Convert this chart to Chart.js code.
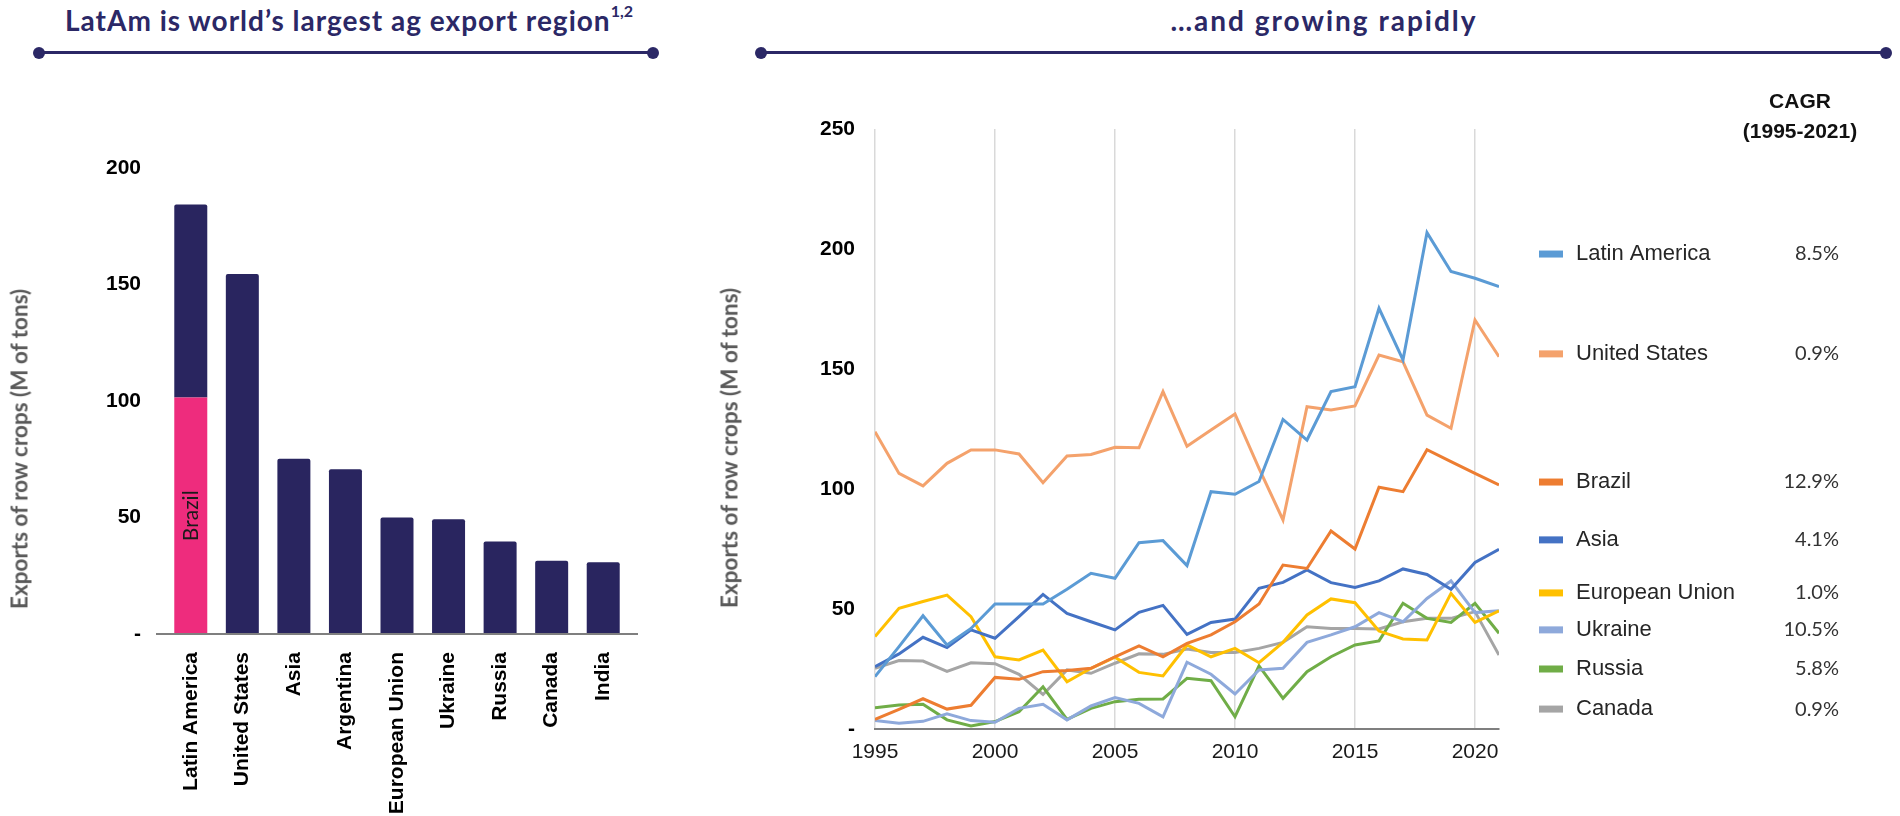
<!DOCTYPE html>
<html>
<head>
<meta charset="utf-8">
<script src="https://cdn.jsdelivr.net/npm/chart.js@4.4.1/dist/chart.umd.min.js"></script>
<style>
html,body{margin:0;padding:0;background:#fff;}
body{width:1900px;height:816px;position:relative;overflow:hidden;font-family:'Liberation Sans',Arial,sans-serif;}
canvas{position:absolute;}
.title{position:absolute;top:4px;line-height:1.2;font-family:Lato,sans-serif;font-weight:700;font-size:28px;color:#2B2866;white-space:nowrap;transform:translateX(-50%);}
.title sup{font-size:16px;line-height:0;position:relative;top:-4px;letter-spacing:0;}
.rule{position:absolute;height:3px;background:#2B2866;top:51px;}
.rule::before,.rule::after{content:'';position:absolute;width:12px;height:12px;border-radius:50%;background:#2B2866;top:-4.5px;}
.rule::before{left:-6px}
.rule::after{right:-6px}
.ytitle{position:absolute;font-family:Lato,sans-serif;font-weight:700;font-size:22.5px;color:#595959;white-space:nowrap;transform:translate(-50%,-50%) rotate(-90deg);}
.cagr{position:absolute;font-family:'Liberation Sans',Arial,sans-serif;font-weight:700;font-size:21px;color:#111;white-space:nowrap;transform:translate(-50%,-50%);}
</style>
</head>
<body>
<canvas id="barChart" width="660" height="716" style="left:0;top:100px;"></canvas>
<canvas id="lineChart" width="1200" height="690" style="left:700px;top:100px;"></canvas>

<div class="title" style="left:349px;letter-spacing:1px;">LatAm is world’s largest ag export region<sup>1,2</sup></div>
<div class="rule" style="left:39px;width:614px;"></div>
<div class="title" style="left:1324px;letter-spacing:2px;">…and growing rapidly</div>
<div class="rule" style="left:761px;width:1125px;"></div>

<div class="ytitle" style="left:19px;top:449px;">Exports of row crops (M of tons)</div>
<div class="ytitle" style="left:729px;top:448px;">Exports of row crops (M of tons)</div>

<div class="cagr" style="left:1800px;top:101px;">CAGR</div>
<div class="cagr" style="left:1800px;top:131px;">(1995-2021)</div>

<script>
// ---------- Left chart data ----------
const barCategories = ['Latin America','United States','Asia','Argentina','European Union','Ukraine','Russia','Canada','India'];
const barTotals = [184.3, 154.5, 75.2, 70.7, 50.0, 49.2, 39.7, 31.4, 30.8];
const brazilValues = [101.5, 0, 0, 0, 0, 0, 0, 0, 0];
const brazilLabel = 'Brazil';
const barTicks = [0, 50, 100, 150, 200];

// ---------- Right chart data ----------
const years = [1995,1996,1997,1998,1999,2000,2001,2002,2003,2004,2005,2006,2007,2008,2009,2010,2011,2012,2013,2014,2015,2016,2017,2018,2019,2020,2021];
const yearTicks = [1995, 2000, 2005, 2010, 2015, 2020];
const lineTicks = [0, 50, 100, 150, 200, 250];
const seriesNames = ['Latin America','United States','Brazil','Asia','European Union','Ukraine','Russia','Canada'];
const latinAmerica = [21.8,34.3,47.2,35.0,41.9,52.1,52.1,52.1,58.2,64.9,62.8,77.6,78.5,68.1,98.9,97.8,103.1,129.0,120.4,140.6,142.6,175.3,153.8,206.8,190.6,187.8,184.3];
const unitedStates = [123.9,106.5,101.3,110.7,116.3,116.3,114.6,102.6,113.8,114.4,117.4,117.2,140.6,117.8,124.6,131.3,108.6,87.1,134.3,132.9,134.6,155.8,153.0,130.8,125.3,170.4,155.1];
const brazil = [4.0,8.2,12.6,8.3,9.9,21.5,20.7,23.9,24.4,25.3,30.1,34.6,30.1,35.7,39.2,44.7,52.1,68.3,66.9,82.5,75.0,100.7,98.9,116.4,111.4,106.5,101.7];
const asia = [26.0,31.3,38.2,33.9,41.3,37.8,46.8,56.1,48.2,44.7,41.3,48.6,51.5,39.4,44.4,45.8,58.6,61.1,66.3,61.0,59.0,61.7,66.7,64.4,58.2,69.4,74.9];
const europeanUnion = [38.5,50.3,53.1,55.8,46.8,30.1,28.8,32.9,19.7,25.3,29.9,23.6,22.1,35.0,30.1,33.6,27.6,36.1,47.5,54.2,52.6,40.8,37.5,37.1,56.5,44.4,49.2];
const ukraine = [3.5,2.4,3.2,6.3,3.5,2.8,8.6,10.3,3.8,9.6,13.1,10.7,5.1,27.8,22.8,14.6,24.6,25.3,36.1,39.2,42.6,48.5,44.7,54.4,61.7,48.5,49.3];
const russia = [8.9,10.0,10.3,3.8,1.3,3.1,7.2,17.6,4.0,8.6,11.4,12.4,12.5,21.1,20.1,5.1,26.3,12.8,23.9,30.1,35.0,36.7,52.4,46.1,44.4,52.4,39.9];
const canada = [25.3,28.5,28.3,24.0,27.6,27.2,22.8,14.4,24.6,23.2,27.4,31.3,31.1,33.3,31.9,31.9,33.6,36.1,42.6,41.9,41.9,41.7,44.7,46.1,46.1,48.9,30.8];
const cagrValues = [8.5, 0.9, 12.9, 4.1, 1.0, 10.5, 5.8, 0.9];

// ---------- Styles (kept apart from data) ----------
const NAVY = '#29255F';
const PINK = '#EE2C7D';
const lineColors = ['#5B9BD5','#F4A26C','#ED7D31','#4472C4','#FFC000','#8EA9DB','#70AD47','#A5A5A5'];
// vertical placement of legend rows, expressed on the value axis
const legendAnchors = [197.9, 156.3, 102.9, 78.8, 56.7, 41.3, 25.0, 8.3];

Chart.defaults.animation = false;
Chart.defaults.font.family = "'Liberation Sans', Arial, sans-serif";

// ---------- Left bar chart ----------
const leftDecor = {
  id: 'leftDecor',
  afterDatasetsDraw(chart) {
    const {ctx, chartArea, scales: {y}} = chart;
    const y0 = y.getPixelForValue(0);
    ctx.save();
    ctx.strokeStyle = '#7F7F7F';
    ctx.lineWidth = 2;
    ctx.beginPath();
    ctx.moveTo(chartArea.left - 9, y0);
    ctx.lineTo(chartArea.right + 9, y0);
    ctx.stroke();
    const el = chart.getDatasetMeta(0).data[0];
    ctx.translate(el.x, (el.y + el.base) / 2);
    ctx.rotate(-Math.PI / 2);
    ctx.font = '21px Lato, sans-serif';
    ctx.fillStyle = '#1A1A1A';
    ctx.textAlign = 'center';
    ctx.textBaseline = 'middle';
    ctx.fillText(brazilLabel, 0, 0);
    ctx.restore();
  }
};

new Chart(document.getElementById('barChart'), {
  type: 'bar',
  data: {
    labels: barCategories,
    datasets: [
      { label: 'Brazil', data: brazilValues, backgroundColor: PINK, borderSkipped: false, borderRadius: 0 },
      { label: 'Total', data: barTotals.map((t, i) => t - brazilValues[i]), backgroundColor: NAVY,
        borderRadius: {topLeft: 2, topRight: 2, bottomLeft: 0, bottomRight: 0}, borderSkipped: false }
    ]
  },
  options: {
    responsive: false,
    devicePixelRatio: 1,
    layout: { padding: { top: 68, right: 31, bottom: 0, left: 0 } },
    datasets: { bar: { barPercentage: 0.64, categoryPercentage: 1 } },
    plugins: { legend: { display: false }, tooltip: { enabled: false } },
    scales: {
      x: {
        stacked: true,
        grid: { display: false },
        border: { display: false },
        ticks: { minRotation: 90, maxRotation: 90, autoSkip: false, padding: 10, color: '#000',
                 font: { size: 21, weight: 'bold' } },
        afterFit(scale) { scale.height = 182; }
      },
      y: {
        stacked: true,
        min: 0, max: 200,
        afterBuildTicks(scale) { scale.ticks = barTicks.map(v => ({ value: v })); },
        grid: { display: false },
        border: { display: false },
        ticks: { padding: 16, color: '#000', font: { size: 21, weight: 'bold' },
                 callback: v => (v === 0 ? '-' : String(v)) },
        afterFit(scale) { scale.width = 165; }
      }
    }
  },
  plugins: [leftDecor]
});

// ---------- Right line chart ----------
const sideLegend = {
  id: 'sideLegend',
  afterDraw(chart) {
    const {ctx, chartArea, scales: {y}} = chart;
    ctx.save();
    chart.data.datasets.forEach((ds, i) => {
      const py = y.getPixelForValue(legendAnchors[i]);
      ctx.fillStyle = ds.borderColor;
      ctx.fillRect(chartArea.right + 40, py - 3.5, 24, 7);
      ctx.textBaseline = 'middle';
      ctx.textAlign = 'left';
      ctx.font = "22px 'Liberation Sans', Arial, sans-serif";
      ctx.fillStyle = '#262626';
      ctx.fillText(ds.label, chartArea.right + 77, py);
      ctx.textAlign = 'right';
      ctx.font = '20px Lato, sans-serif';
      ctx.fillStyle = '#333';
      ctx.fillText(cagrValues[i].toFixed(1) + '%', chartArea.right + 340, py);
    });
    ctx.restore();
  }
};

const seriesData = [latinAmerica, unitedStates, brazil, asia, europeanUnion, ukraine, russia, canada];

new Chart(document.getElementById('lineChart'), {
  type: 'line',
  data: {
    datasets: seriesData.map((arr, i) => ({
      label: seriesNames[i],
      data: arr.map((v, k) => ({ x: years[k], y: v })),
      borderColor: lineColors[i],
      backgroundColor: lineColors[i],
      borderWidth: 3,
      pointRadius: 0,
      tension: 0,
      fill: false
    }))
  },
  options: {
    responsive: false,
    devicePixelRatio: 1,
    layout: { padding: { top: 29, right: 401, bottom: 0, left: 0 } },
    plugins: { legend: { display: false }, tooltip: { enabled: false } },
    scales: {
      x: {
        type: 'linear',
        min: years[0], max: years[years.length - 1],
        afterBuildTicks(scale) { scale.ticks = yearTicks.map(v => ({ value: v })); },
        grid: { color: '#D9D9D9', lineWidth: 1.5, drawTicks: false },
        border: { display: true, color: '#7F7F7F', width: 2 },
        ticks: { padding: 11, color: '#1A1A1A', font: { size: 21 }, callback: v => String(v) },
        afterFit(scale) { scale.height = 61; }
      },
      y: {
        min: 0, max: 250,
        afterBuildTicks(scale) { scale.ticks = lineTicks.map(v => ({ value: v })); },
        grid: { display: false },
        border: { display: false },
        ticks: { padding: 12, color: '#000', font: { size: 21, weight: 'bold' },
                 callback: v => (v === 0 ? '-' : String(v)) },
        afterFit(scale) { scale.width = 175; }
      }
    }
  },
  plugins: [sideLegend]
});
</script>
</body>
</html>
